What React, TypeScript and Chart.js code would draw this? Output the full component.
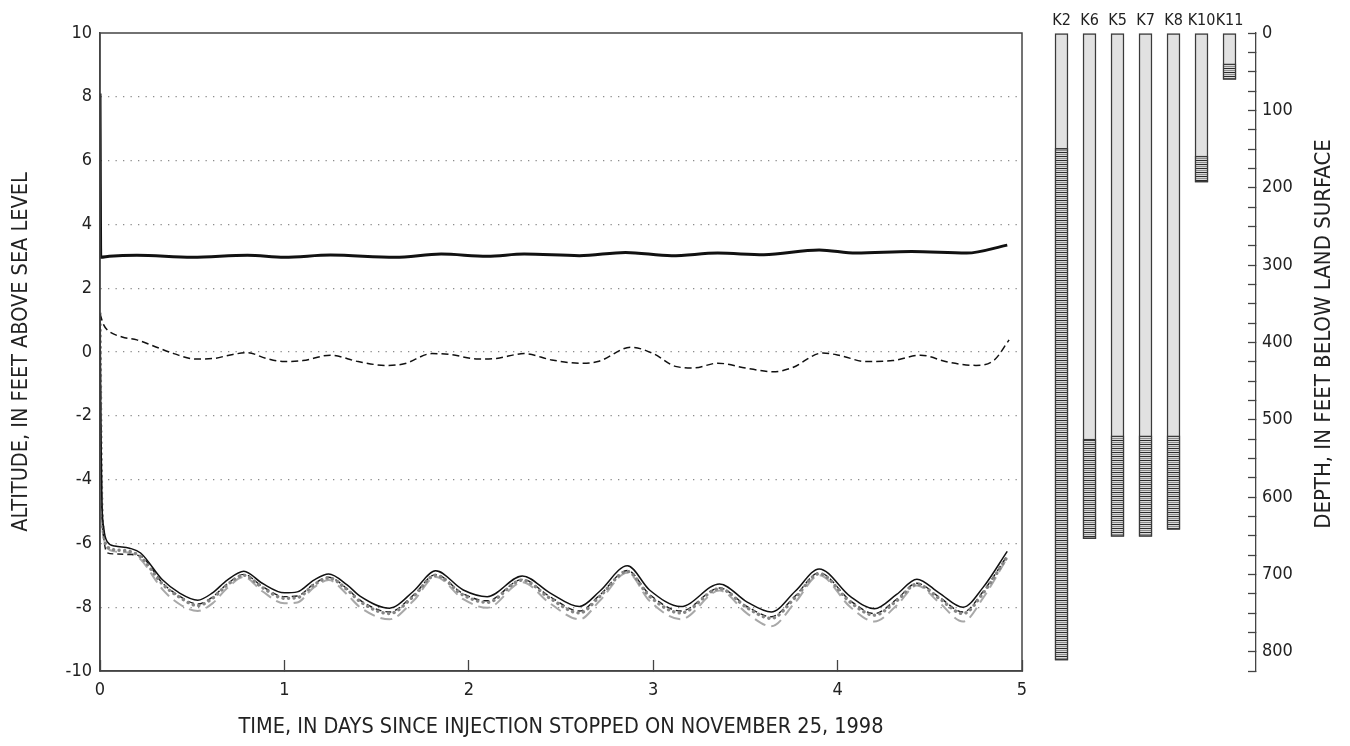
import { useEffect, useRef } from 'react';
import { Chart, registerables } from 'chart.js';

Chart.register(...registerables);

const FONT = "'Liberation Sans Narrow', 'Arial Narrow', 'DejaVu Sans Condensed', sans-serif";
const INK = '#222222';

// ---- Hydrograph axes ----
const timeTicks = [0, 1, 2, 3, 4, 5];
const altitudeTicks = [-10, -8, -6, -4, -2, 0, 2, 4, 6, 8, 10];

// Shallow well (heavy solid line)
const tShallow = [0, 0.004, 0.05, 0.2, 0.5, 0.8, 1.0, 1.25, 1.6, 1.85, 2.1, 2.3, 2.6, 2.85, 3.1, 3.35, 3.6, 3.9, 4.1, 4.4, 4.7, 4.92];
const altShallow = [8.1, 2.97, 3.0, 3.03, 2.97, 3.03, 2.97, 3.04, 2.97, 3.07, 3.0, 3.07, 3.02, 3.12, 3.02, 3.1, 3.05, 3.2, 3.1, 3.15, 3.1, 3.35];

// Intermediate well (dashed line near sea level)
const tMiddle = [0, 0.02, 0.04, 0.12, 0.2, 0.29, 0.4, 0.52, 0.62, 0.7, 0.8, 0.9, 1.0, 1.1, 1.25, 1.4, 1.55, 1.65, 1.8, 1.9, 2.05, 2.15, 2.3, 2.45, 2.6, 2.7, 2.88, 3.0, 3.12, 3.22, 3.35, 3.5, 3.65, 3.75, 3.92, 4.02, 4.15, 4.3, 4.45, 4.6, 4.75, 4.85, 4.93];
const altMiddle = [1.2, 0.85, 0.69, 0.47, 0.38, 0.19, -0.05, -0.22, -0.2, -0.1, -0.02, -0.2, -0.3, -0.27, -0.1, -0.3, -0.42, -0.37, -0.05, -0.08, -0.22, -0.2, -0.05, -0.25, -0.35, -0.3, 0.15, -0.05, -0.45, -0.5, -0.35, -0.5, -0.62, -0.5, -0.03, -0.12, -0.3, -0.27, -0.1, -0.32, -0.42, -0.25, 0.38];

// Deep wells (tidal group)
const tDeep = [0, 0.005, 0.01, 0.02, 0.04, 0.08, 0.16, 0.22, 0.34, 0.43, 0.53, 0.61, 0.69, 0.78, 0.88, 1.0, 1.07, 1.16, 1.24, 1.34, 1.41, 1.57, 1.7, 1.82, 1.97, 2.1, 2.29, 2.44, 2.6, 2.71, 2.86, 2.98, 3.15, 3.36, 3.51, 3.64, 3.77, 3.9, 4.07, 4.2, 4.32, 4.43, 4.55, 4.68, 4.79, 4.92];
const altDeepSolid = [1.2, -2.5, -4.6, -5.5, -5.95, -6.08, -6.15, -6.3, -7.15, -7.55, -7.78, -7.55, -7.15, -6.87, -7.25, -7.55, -7.52, -7.15, -6.96, -7.3, -7.65, -8.03, -7.5, -6.86, -7.46, -7.67, -7.02, -7.55, -7.98, -7.5, -6.7, -7.46, -7.98, -7.27, -7.84, -8.15, -7.5, -6.8, -7.67, -8.05, -7.6, -7.12, -7.55, -8.0, -7.37, -6.25];
const altDeepDashed = [1.2, -2.7, -4.9, -5.8, -6.3, -6.33, -6.35, -6.4, -7.25, -7.65, -7.9, -7.68, -7.27, -6.97, -7.35, -7.67, -7.65, -7.27, -7.06, -7.42, -7.78, -8.15, -7.62, -6.98, -7.58, -7.8, -7.13, -7.67, -8.12, -7.62, -6.85, -7.6, -8.12, -7.4, -7.98, -8.3, -7.65, -6.92, -7.8, -8.2, -7.75, -7.25, -7.68, -8.15, -7.5, -6.38];
const altDeepDotted = [1.2, -2.6, -4.8, -5.7, -6.1, -6.2, -6.25, -6.42, -7.28, -7.68, -7.95, -7.72, -7.3, -7.0, -7.38, -7.72, -7.7, -7.3, -7.08, -7.45, -7.82, -8.2, -7.66, -7.0, -7.62, -7.85, -7.15, -7.72, -8.18, -7.66, -6.88, -7.66, -8.18, -7.42, -8.02, -8.35, -7.7, -6.95, -7.85, -8.25, -7.8, -7.28, -7.72, -8.2, -7.55, -6.42];
const altDeepLong = [1.2, -2.8, -5.0, -5.8, -6.15, -6.25, -6.3, -6.5, -7.45, -7.9, -8.12, -7.88, -7.4, -7.05, -7.5, -7.88, -7.85, -7.38, -7.15, -7.6, -8.0, -8.38, -7.8, -7.05, -7.75, -8.02, -7.22, -7.88, -8.38, -7.8, -6.92, -7.8, -8.38, -7.48, -8.2, -8.6, -7.85, -7.0, -8.0, -8.45, -7.95, -7.32, -7.85, -8.45, -7.7, -6.45];

// ---- Well construction (depth, feet below land surface) ----
const wellNames = ['K2', 'K6', 'K5', 'K7', 'K8', 'K10', 'K11'];
const wellBottom = [811, 654, 651, 651, 642, 193, 60];
const screenTop = [149, 525, 521, 521, 521, 159, 40];
const depthMax = 825;

const pts = (t: number[], v: number[]) => t.map((x, i) => ({ x, y: v[i] }));

// Horizontal slotted-screen hatching
function makeHatch(ctx: CanvasRenderingContext2D): CanvasPattern | string {
  const c = document.createElement('canvas');
  c.width = 4;
  c.height = 4;
  const g = c.getContext('2d');
  if (!g) return '#bbbbbb';
  g.fillStyle = '#dadada';
  g.fillRect(0, 0, 4, 4);
  g.fillStyle = '#2a2a2a';
  g.fillRect(0, 0, 4, 1);
  g.fillStyle = '#8c8c8c';
  g.fillRect(0, 2, 4, 1);
  return ctx.createPattern(c, 'repeat') || '#bbbbbb';
}

const frame = {
  id: 'frame',
  afterDatasetsDraw(chart: any) {
    const { ctx, chartArea: a } = chart;
    ctx.save();
    ctx.strokeStyle = '#444';
    ctx.lineWidth = 1.5;
    ctx.strokeRect(a.left, a.top, a.right - a.left, a.bottom - a.top);
    ctx.restore();
  },
};

const depthTitle = {
  id: 'depthTitle',
  afterDraw(chart: any) {
    const { ctx, chartArea: a } = chart;
    ctx.save();
    ctx.translate(chart.width - 26, (a.top + a.bottom) / 2 - 18);
    ctx.rotate(-Math.PI / 2);
    ctx.font = `22px ${FONT}`;
    ctx.fillStyle = INK;
    ctx.textAlign = 'center';
    ctx.textBaseline = 'middle';
    ctx.fillText('DEPTH, IN FEET BELOW LAND SURFACE', 0, 0);
    ctx.restore();
  },
};

const noSidePadding = (s: any) => {
  s.paddingLeft = 0;
  s.paddingRight = 0;
};

export default function App() {
  const mainRef = useRef<HTMLCanvasElement>(null);
  const wellRef = useRef<HTMLCanvasElement>(null);

  useEffect(() => {
    if (!mainRef.current || !wellRef.current) return;

    const line = (data: any, color: string, width: number, dash: number[], cap: CanvasLineCap = 'butt') => ({
      data,
      borderColor: color,
      borderWidth: width,
      borderDash: dash,
      borderCapStyle: cap,
      pointRadius: 0,
      fill: false,
    });

    // Chart.js paints the first dataset last, so the list runs from top layer down.
    const main = new Chart(mainRef.current, {
      type: 'line',
      data: {
        datasets: [
          line(pts(tShallow, altShallow), '#111', 3, []),
          line(pts(tMiddle, altMiddle), '#111', 1.5, [7, 4]),
          line(pts(tDeep, altDeepSolid), '#111', 1.5, []),
          line(pts(tDeep, altDeepDotted), '#858585', 3.4, [0.1, 5.5], 'round'),
          line(pts(tDeep, altDeepDashed), '#1e1e1e', 1.4, [6, 4]),
          line(pts(tDeep, altDeepLong), '#a8a8a8', 2, [12, 6]),
        ] as any,
      },
      options: {
        responsive: false,
        animation: false,
        layout: { padding: { top: 33, right: 18, left: 0, bottom: 0 } },
        elements: { line: { cubicInterpolationMode: 'monotone' } },
        plugins: { legend: { display: false }, tooltip: { enabled: false } },
        scales: {
          x: {
            type: 'linear',
            min: 0,
            max: 5,
            afterFit: (s: any) => { s.height = 75; noSidePadding(s); },
            afterBuildTicks: (s: any) => { s.ticks = timeTicks.map((value) => ({ value })); },
            grid: { drawOnChartArea: false, drawTicks: true, tickLength: -11, tickColor: '#444', tickWidth: 1.3 },
            border: { display: true, color: '#444', width: 1.5 },
            ticks: { font: { family: FONT, size: 18 }, color: INK, padding: 20, maxRotation: 0 },
            title: {
              display: true,
              text: 'TIME, IN DAYS SINCE INJECTION STOPPED ON NOVEMBER 25, 1998',
              font: { family: FONT, size: 21.5 },
              color: INK,
              padding: { top: 0, bottom: 6 },
            },
          },
          y: {
            type: 'linear',
            min: -10,
            max: 10,
            afterFit: (s: any) => { s.width = 100; },
            afterBuildTicks: (s: any) => { s.ticks = altitudeTicks.map((value) => ({ value })); },
            grid: {
              drawTicks: false,
              lineWidth: 1.3,
              color: (c: any) => (c.tick && Math.abs(c.tick.value) === 10 ? 'rgba(0,0,0,0)' : '#8c8c8c'),
            },
            border: { display: true, color: '#444', width: 1.5, dash: [1.3, 6.2] },
            ticks: { font: { family: FONT, size: 18 }, color: INK, padding: 8 },
            title: {
              display: true,
              text: 'ALTITUDE, IN FEET ABOVE SEA LEVEL',
              font: { family: FONT, size: 21.5 },
              color: INK,
              padding: { top: 9, bottom: 0 },
            },
          },
        },
      } as any,
      plugins: [frame],
    });

    const wctx = wellRef.current.getContext('2d') as CanvasRenderingContext2D;
    const hatch = makeHatch(wctx);
    const bar = (lo: number[], color: any) => ({
      data: wellNames.map((_, i) => ({ x: i, y: [lo[i], wellBottom[i]] })),
      backgroundColor: color,
      borderColor: '#3a3a3a',
      borderWidth: 1.5,
      borderSkipped: false,
      barThickness: 13,
      grouped: false,
    });

    // Screened interval first so it is painted over the casing.
    const wells = new Chart(wellRef.current, {
      type: 'bar',
      data: {
        datasets: [
          bar(screenTop, hatch),
          bar(wellNames.map(() => 0), '#e1e1e1'),
        ] as any,
      },
      options: {
        responsive: false,
        animation: false,
        layout: { padding: { left: 7.5, top: 0, right: 0, bottom: 75 } },
        plugins: { legend: { display: false }, tooltip: { enabled: false } },
        scales: {
          x: {
            type: 'linear',
            position: 'top',
            offset: false,
            min: -0.5,
            max: 6.946,
            afterFit: (s: any) => { s.height = 33; noSidePadding(s); },
            afterBuildTicks: (s: any) => { s.ticks = wellNames.map((_, value) => ({ value })); },
            grid: { display: false, drawTicks: false },
            border: { display: false },
            ticks: {
              font: { family: FONT, size: 16 },
              color: INK,
              padding: 3,
              maxRotation: 0,
              autoSkip: false,
              callback: (v: any) => wellNames[v] ?? '',
            },
          },
          y: {
            type: 'linear',
            position: 'right',
            reverse: true,
            min: 0,
            max: depthMax,
            afterFit: (s: any) => { s.width = 94; },
            grid: { drawOnChartArea: false, drawTicks: true, tickLength: -8, tickColor: '#444', tickWidth: 1.3 },
            border: { display: true, color: '#444', width: 1.3 },
            ticks: {
              stepSize: 25,
              autoSkip: false,
              font: { family: FONT, size: 18 },
              color: INK,
              padding: 14,
              callback: (v: any) => (v % 100 === 0 ? String(v) : ''),
            },
          },
        },
      } as any,
      plugins: [depthTitle],
    });

    return () => {
      main.destroy();
      wells.destroy();
    };
  }, []);

  return (
    <div style={{ position: 'fixed', left: 0, top: 0, width: 1350, height: 746, background: '#fff' }}>
      <canvas ref={mainRef} width={1040} height={746} style={{ position: 'absolute', left: 0, top: 0 }} />
      <canvas ref={wellRef} width={310} height={746} style={{ position: 'absolute', left: 1040, top: 0 }} />
    </div>
  );
}
